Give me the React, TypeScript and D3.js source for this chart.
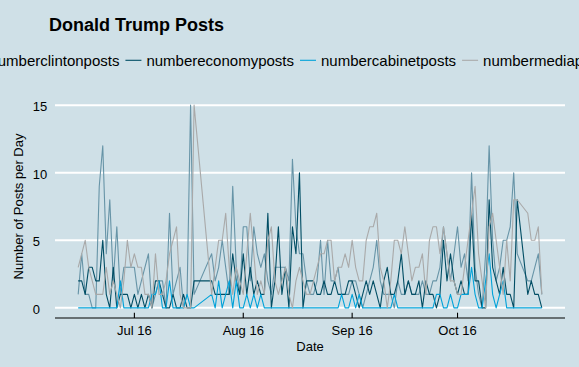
import { useMemo } from 'react';
import * as d3 from 'd3';

const WIDTH = 579;
const HEIGHT = 367;
const BG = '#cfe0e7';
const FONT = '"Liberation Sans", Arial, Helvetica, sans-serif';

// Daily dates (a few days are missing in the source data)
const dates = [
  '2016-06-15', '2016-06-16', '2016-06-17', '2016-06-18', '2016-06-19', '2016-06-20', '2016-06-21', '2016-06-22',
  '2016-06-23', '2016-06-24', '2016-06-25', '2016-06-26', '2016-06-27', '2016-06-28', '2016-06-29', '2016-06-30',
  '2016-07-01', '2016-07-02', '2016-07-03', '2016-07-04', '2016-07-05', '2016-07-06', '2016-07-07', '2016-07-08',
  '2016-07-09', '2016-07-10', '2016-07-11', '2016-07-12', '2016-07-13', '2016-07-14', '2016-07-15', '2016-07-16',
  '2016-07-17', '2016-07-18',
  '2016-07-23', '2016-07-24', '2016-07-25', '2016-07-26', '2016-07-27', '2016-07-28', '2016-07-29', '2016-07-30',
  '2016-07-31',
  '2016-08-01', '2016-08-02', '2016-08-03', '2016-08-04', '2016-08-05', '2016-08-06', '2016-08-07', '2016-08-08',
  '2016-08-09', '2016-08-10', '2016-08-11', '2016-08-12', '2016-08-13', '2016-08-14', '2016-08-15', '2016-08-16',
  '2016-08-17', '2016-08-18', '2016-08-19', '2016-08-20', '2016-08-21', '2016-08-22', '2016-08-23', '2016-08-24',
  '2016-08-25', '2016-08-26', '2016-08-27', '2016-08-28', '2016-08-29', '2016-08-30', '2016-08-31',
  '2016-09-01', '2016-09-02', '2016-09-03', '2016-09-04', '2016-09-05', '2016-09-06', '2016-09-07', '2016-09-08',
  '2016-09-09', '2016-09-10', '2016-09-11', '2016-09-12', '2016-09-13', '2016-09-14', '2016-09-15', '2016-09-16',
  '2016-09-17', '2016-09-18', '2016-09-19', '2016-09-20', '2016-09-21', '2016-09-22', '2016-09-23', '2016-09-24',
  '2016-09-25', '2016-09-26', '2016-09-27', '2016-09-28', '2016-09-29', '2016-09-30',
  '2016-10-01', '2016-10-02', '2016-10-03', '2016-10-04', '2016-10-05', '2016-10-06', '2016-10-07', '2016-10-08',
  '2016-10-09', '2016-10-10', '2016-10-11', '2016-10-12', '2016-10-13', '2016-10-14', '2016-10-15', '2016-10-16',
  '2016-10-17', '2016-10-18',
  '2016-10-21', '2016-10-22', '2016-10-23', '2016-10-24', '2016-10-25',
];

const clintonPosts = [
  1, 4, 1, 1, 0, 0, 9, 12, 4, 8, 2, 6, 1, 3, 3, 3,
  3, 1, 2, 3, 4, 0, 1, 2, 2, 0, 7, 1, 2, 3, 0, 1, 15, 1,
  4, 2, 3, 5, 3, 1, 9, 3, 1,
  6, 6, 2, 6, 4, 3, 4, 2, 1, 3, 3, 3, 3, 2, 11, 6, 4, 4, 2, 1, 1, 2, 5, 1, 5, 2, 2, 3, 1, 1, 1,
  2, 2, 1, 0, 1, 2, 3, 5, 2, 1, 1, 1, 0, 2, 1, 1, 2, 1, 1, 1, 2, 1, 1, 2, 2, 3, 6, 4, 2, 4,
  6, 3, 4, 2, 10, 3, 1, 0, 4, 12, 5, 2, 3, 5, 5, 6, 10, 4,
  2, 2, 3, 4, 1,
];

const economyPosts = [
  2, 2, 1, 3, 3, 2, 2, 5, 1, 0, 3, 0, 1, 1, 1, 0,
  1, 0, 1, 0, 1, 0, 2, 2, 1, 0, 0, 1, 0, 0, 1, 0, 0, 2,
  2, 1, 1, 1, 1, 1, 4, 2, 1,
  4, 1, 3, 1, 2, 1, 1, 7, 0, 2, 6, 1, 3, 0, 6, 4, 10, 0, 2, 2, 2, 1, 1, 2, 1, 1, 2, 1, 1, 1, 2,
  2, 1, 0, 1, 2, 1, 2, 1, 0, 2, 3, 1, 1, 2, 4, 1, 2, 1, 1, 2, 0, 2, 1, 1, 0, 1, 5, 2, 4, 2,
  1, 2, 1, 1, 7, 2, 2, 0, 0, 8, 3, 2, 1, 3, 1, 1, 0, 8,
  1, 2, 1, 1, 0,
];

const cabinetPosts = [
  0, 0, 0, 0, 0, 0, 0, 0, 0, 0, 0, 0, 2, 0, 0, 0,
  0, 0, 0, 0, 0, 1, 1, 2, 0, 0, 2, 0, 0, 0, 0, 1, 0, 0,
  1, 0, 2, 0, 1, 2, 0, 2, 0,
  0, 1, 0, 1, 0, 1, 0, 0, 0, 0, 0, 0, 0, 0, 0, 0, 0, 0, 0, 0, 0, 0, 0, 0, 0, 0, 0, 0, 1, 0, 0,
  1, 0, 1, 0, 0, 0, 0, 0, 0, 0, 0, 0, 1, 0, 0, 0, 0, 0, 0, 0, 0, 0, 0, 0, 1, 1, 0, 0, 1, 0,
  0, 1, 1, 1, 3, 1, 0, 0, 2, 4, 1, 0, 1, 2, 0, 0, 0, 0,
  0, 0, 0, 0, 0,
];

const mediaPosts = [
  3, 4, 5, 3, 2, 1, 1, 1, 3, 1, 2, 1, 0, 2, 5, 3,
  4, 3, 3, 1, 1, 0, 4, 1, 1, 2, 4, 5, 6, 1, 0, 0, 0, 15,
  1, 3, 5, 5, 7, 3, 1, 3, 2,
  1, 4, 7, 4, 1, 2, 1, 5, 6, 2, 1, 2, 3, 1, 0, 2, 3, 2, 1, 1, 2, 3, 4, 4, 5, 5, 2, 3, 3, 4, 3,
  5, 3, 2, 2, 5, 6, 6, 7, 3, 2, 0, 2, 5, 5, 4, 6, 4, 2, 3, 3, 4, 1, 5, 6, 6, 4, 6, 4, 2, 2,
  1, 1, 3, 5, 7, 9, 4, 2, 0, 6, 7, 5, 3, 1, 5, 2, 8, 8,
  7, 5, 5, 6, 1,
];

const seriesNames = ['numberclintonposts', 'numbereconomyposts', 'numbercabinetposts', 'numbermediaposts'];
const seriesColors = ['#6794a7', '#014d64', '#01a2d9', '#a9a9a9'];
const seriesValues = [clintonPosts, economyPosts, cabinetPosts, mediaPosts];

const yTicks = [0, 5, 10, 15];
const xTicks = ['2016-07-01', '2016-08-01', '2016-09-01', '2016-10-01'];

const parseDate = d3.timeParse('%Y-%m-%d');
const formatTick = d3.timeFormat('%b %y');

// panel box
const PANEL = { left: 55, right: 565, top: 95, bottom: 318 };

function measure(text: string, font: string) {
  const ctx = document.createElement('canvas').getContext('2d');
  if (!ctx) return text.length * 7;
  ctx.font = font;
  return ctx.measureText(text).width;
}

export default function App() {
  const parsed = useMemo(() => dates.map(d => parseDate(d) as Date), []);

  const x = useMemo(() => {
    const [lo, hi] = d3.extent(parsed) as [Date, Date];
    const pad = (hi.getTime() - lo.getTime()) * 0.05;
    return d3.scaleTime()
      .domain([new Date(lo.getTime() - pad), new Date(hi.getTime() + pad)])
      .range([PANEL.left, PANEL.right]);
  }, [parsed]);

  const maxY = d3.max(seriesValues.flat()) ?? 15;
  const y = d3.scaleLinear()
    .domain([-maxY * 0.05, maxY * 1.05])
    .range([PANEL.bottom, PANEL.top]);

  const line = d3.line<number>()
    .x((_, i) => x(parsed[i]))
    .y(v => y(v));

  // legend layout, centred on the plot like ggplot does
  const legend = useMemo(() => {
    const font = `15px ${FONT}`;
    const keyW = 16;
    const items = seriesNames.map(n => ({ name: n, w: measure(n, font) }));
    const total = items.reduce((s, it) => s + keyW + 5 + it.w, 0) + 6 * (items.length - 1);
    let cx = WIDTH / 2 - total / 2;
    return items.map((it, i) => {
      const pos = { ...it, keyX: cx, textX: cx + keyW + 5, color: seriesColors[i] };
      cx += keyW + 5 + it.w + 6;
      return pos;
    });
  }, []);

  return (
    <svg
      width={WIDTH}
      height={HEIGHT}
      style={{ position: 'absolute', left: 0, top: 0, fontFamily: FONT }}
    >
      <rect x={0} y={0} width={WIDTH} height={HEIGHT} fill={BG} />

      {/* title */}
      <text x={49} y={30.7} fontSize={18} fontWeight="bold" fill="#000">Donald Trump Posts</text>

      {/* legend */}
      {legend.map(it => (
        <g key={it.name}>
          <line x1={it.keyX} x2={it.keyX + 16} y1={60.3} y2={60.3} stroke={it.color} strokeWidth={1.1} />
          <text x={it.textX} y={65.6} fontSize={15} fill="#000">{it.name}</text>
        </g>
      ))}

      {/* grid */}
      {yTicks.map(t => (
        <g key={t}>
          <line x1={PANEL.left} x2={PANEL.right} y1={y(t)} y2={y(t)} stroke="#fff" strokeWidth={2} />
          <text x={32.8} y={y(t) + 5.8} fontSize={13} fill="#000">{t}</text>
        </g>
      ))}

      {/* series */}
      {seriesValues.map((vals, i) => (
        <path
          key={seriesNames[i]}
          d={line(vals) ?? ''}
          fill="none"
          stroke={seriesColors[i]}
          strokeWidth={1.1}
          strokeLinejoin="round"
        />
      ))}

      {/* x axis */}
      <line x1={PANEL.left} x2={PANEL.right} y1={PANEL.bottom} y2={PANEL.bottom} stroke="#000" strokeWidth={1.1} />
      {xTicks.map(t => {
        const d = parseDate(t) as Date;
        const px = x(d);
        return (
          <g key={t}>
            <line x1={px} x2={px} y1={PANEL.bottom} y2={PANEL.bottom - 5.3} stroke="#000" strokeWidth={1.1} />
            <text x={px} y={334.5} fontSize={13} textAnchor="middle" fill="#000">{formatTick(d)}</text>
          </g>
        );
      })}
      <text x={(PANEL.left + PANEL.right) / 2} y={350.5} fontSize={13} textAnchor="middle" fill="#000">Date</text>

      {/* y title */}
      <text
        transform={`translate(22.8, ${(PANEL.top + PANEL.bottom) / 2}) rotate(-90)`}
        fontSize={13}
        textAnchor="middle"
        fill="#000"
      >
        Number of Posts per Day
      </text>
    </svg>
  );
}
